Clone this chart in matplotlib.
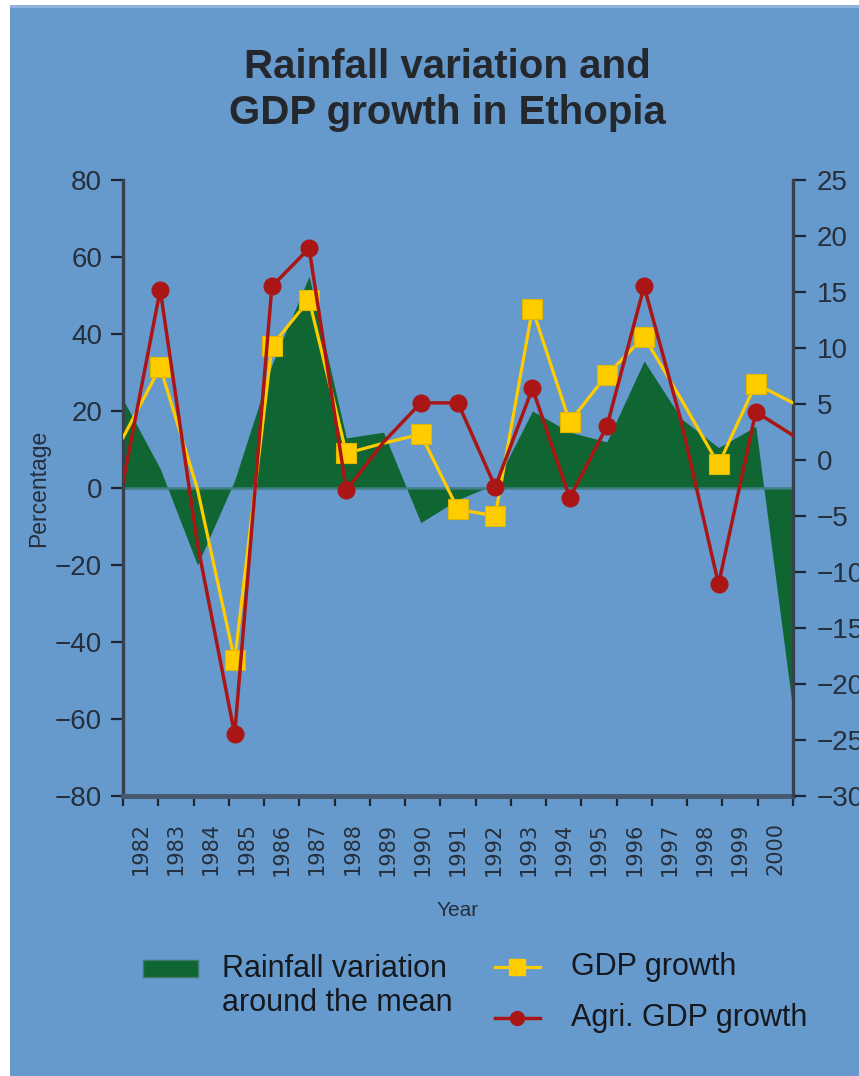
import matplotlib
matplotlib.use("Agg")
import matplotlib.pyplot as plt
from matplotlib.patches import Rectangle
from matplotlib.lines import Line2D
import numpy as np

# data
years = ["1982", "1983", "1984", "1985", "1986", "1987", "1988", "1989", "1990", "1991",
         "1992", "1993", "1994", "1995", "1996", "1997", "1998", "1999", "2000"]
rainfall = [23, 5, -20, 2, 32, 55, 13, 14.5, -9, -3, 1, 20, 14.5, 12, 33, 18, 10.5, 16, -58]
gdp_growth = [2.0, 8.3, -2.6, -17.9, 10.2, 14.3, 0.6, 1.5, 2.3, -4.4, -5.0, 13.5, 3.4, 7.6,
              11.0, 5.4, -0.4, 6.8, 5.1]
agri_growth = [-2.0, 15.2, -7.5, -24.5, 15.5, 18.9, -2.7, 1.6, 5.1, 5.1, -2.4, 6.4, -3.4, 3.0,
               15.5, 3.4, -11.1, 4.3, 2.2]
# years that carry a marker in the original
marked = [1, 3, 4, 5, 6, 8, 9, 10, 11, 12, 13, 14, 16, 17]

# colours
BG = "#6699CC"
GREEN = "#106633"
YELLOW = "#FFCC00"
RED = "#AA1616"
TXT = "#262f3c"
SANS = ["Liberation Sans", "DejaVu Sans"]

W, H = 859, 1076
fig = plt.figure(figsize=(W / 100, H / 100), dpi=100, facecolor="white")

# blue panel behind everything
fig.patches.append(Rectangle((10 / W, 0), 1, 1 - 8 / H, transform=fig.transFigure,
                             facecolor=BG, edgecolor="none", zorder=-10))
fig.patches.append(Rectangle((10 / W, 1 - 8 / H), 1, 3 / H, transform=fig.transFigure,
                             facecolor="#8fb3da", edgecolor="none", zorder=-10))

left, right, top, bottom = 123, 793, 180, 796
ax = fig.add_axes([left / W, 1 - bottom / H, (right - left) / W, (bottom - top) / H])
ax.set_facecolor("none")
x = np.arange(len(years))

# rainfall area (left axis)
ax.fill_between(x, rainfall, 0, color=GREEN, lw=0, zorder=1)
ax.axhline(0, color="#3f7f82", lw=1.8, zorder=2)
ax.set_xlim(0, len(years) - 1)
ax.set_ylim(-80, 80)
ax.set_yticks(np.arange(-80, 81, 20))

# year ticks: marks at category edges, labels at category centres
n = len(years)
ax.set_xticks([k * (n - 1) / n for k in range(n + 1)])
ax.set_xticklabels([])
ax.set_xticks([(k + 0.5) * (n - 1) / n for k in range(n)], minor=True)
ax.set_xticklabels(years, minor=True, rotation=90, family="DejaVu Sans",
                   fontsize=15, color=TXT)
ax.tick_params(axis="x", which="major", direction="out", length=7, width=1.6, color="#1e2530")
ax.tick_params(axis="x", which="minor", length=0, pad=19)
ax.tick_params(axis="y", direction="out", length=9, width=1.6, color="#1e2530", pad=6,
               labelsize=20, labelcolor=TXT)
for lab in ax.get_yticklabels():
    lab.set_family(SANS)

for s in ["top", "right"]:
    ax.spines[s].set_visible(False)
ax.spines["left"].set_color("#37404d")
ax.spines["left"].set_linewidth(2.4)
ax.spines["bottom"].set_color("#475a72")
ax.spines["bottom"].set_linewidth(3.6)

# growth lines (right axis)
ax2 = ax.twinx()
ax2.set_ylim(-30, 25)
ax2.set_yticks(np.arange(-30, 26, 5))
ax2.plot(x, gdp_growth, color=YELLOW, lw=2.3, marker="s", ms=14, mfc=YELLOW,
         mec="#e0b800", mew=0.8, markevery=marked, zorder=3)
ax2.plot(x, agri_growth, color=RED, lw=2.5, marker="o", ms=12, mfc=RED, mec=RED,
         markevery=marked, zorder=4)
ax2.set_xlim(0, len(years) - 1)
for s in ["top", "left", "bottom"]:
    ax2.spines[s].set_visible(False)
ax2.spines["right"].set_color("#37404d")
ax2.spines["right"].set_linewidth(2.4)
ax2.tick_params(axis="y", direction="out", length=9, width=1.6, color="#1e2530", pad=8,
                labelsize=20, labelcolor=TXT)
for lab in ax2.get_yticklabels():
    lab.set_family(SANS)

# titles and axis labels
fig.text(447 / W, 1 - 90 / H, "Rainfall variation and\nGDP growth in Ethopia", ha="center",
         va="center", fontsize=29, fontweight="bold", family=SANS, color="#24272c",
         linespacing=1.27)
fig.text(39 / W, 1 - 488 / H, "Percentage", rotation=90, ha="center", va="center",
         fontsize=16.5, family=SANS, color=TXT)
fig.text(458 / W, 1 - 911 / H, "Year", ha="center", va="center", fontsize=15,
         family=SANS, color=TXT)

# legend drawn by hand
fig.patches.append(Rectangle((143 / W, 1 - 977 / H), 55 / W, 17 / H, transform=fig.transFigure,
                             facecolor=GREEN, edgecolor="#3d7a6a", lw=1))
fig.text(222 / W, 1 - 986 / H, "Rainfall variation\naround the mean", ha="left", va="center",
         fontsize=22, family=SANS, color="#15181d", linespacing=1.2)
fig.add_artist(Line2D([495 / W, 540 / W], [1 - 967 / H, 1 - 967 / H], transform=fig.transFigure,
                      color=YELLOW, lw=2.3))
fig.add_artist(Line2D([517 / W], [1 - 967 / H], transform=fig.transFigure, color=YELLOW,
                      marker="s", ms=11, lw=0))
fig.add_artist(Line2D([495 / W, 540 / W], [1 - 1018 / H, 1 - 1018 / H], transform=fig.transFigure,
                      color=RED, lw=2.5))
fig.add_artist(Line2D([517 / W], [1 - 1018 / H], transform=fig.transFigure, color=RED,
                      marker="o", ms=10, lw=0))
fig.text(571 / W, 1 - 967 / H, "GDP growth", ha="left", va="center", fontsize=22,
         family=SANS, color="#15181d")
fig.text(571 / W, 1 - 1018 / H, "Agri. GDP growth", ha="left", va="center", fontsize=22,
         family=SANS, color="#15181d")

fig.savefig("out.png", dpi=100, facecolor="white")
